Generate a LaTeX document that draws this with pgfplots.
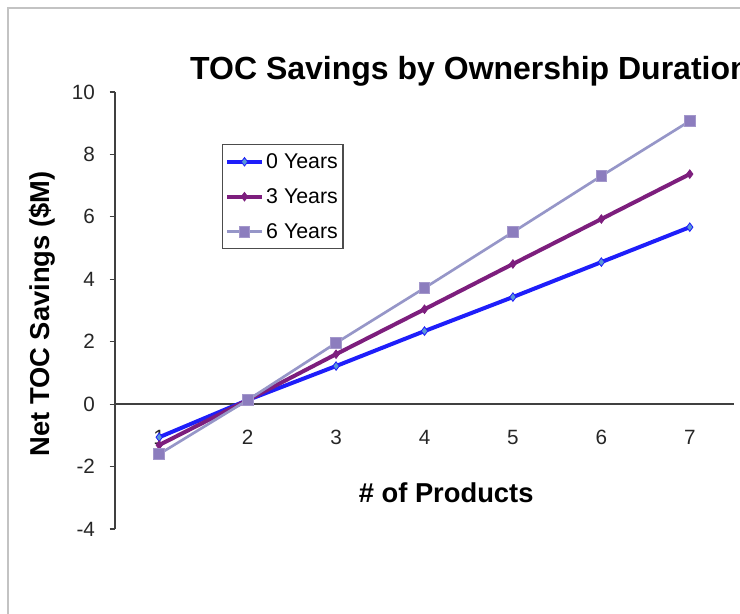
\documentclass[border=0pt]{standalone}
\usepackage{pgfplots}
\pgfplotsset{compat=1.18}
\usepackage{fontspec}
\setmainfont{Liberation Sans}

\definecolor{zeroyr}{RGB}{30,30,250}
\definecolor{zeromk}{RGB}{90,150,215}
\definecolor{threeyr}{RGB}{125,30,125}
\definecolor{sixyr}{RGB}{150,150,200}
\definecolor{sixmk}{RGB}{140,125,190}
\definecolor{frame}{RGB}{195,195,195}

\begin{document}
\begin{tikzpicture}
  % page = 740 x 614 px, 1px = 0.75pt
  \useasboundingbox (0,0) rectangle (555pt,460.5pt);
  \clip (0,0) rectangle (555pt,460.5pt);
  \draw[frame, line width=0.8pt] (6pt,0pt) -- (6pt,454.5pt) -- (555pt,454.5pt);

  \begin{axis}[
    at={(86.25pt,63.75pt)}, anchor=south west,
    scale only axis,
    width=464.25pt, height=327.75pt,
    xmin=0.5, xmax=7.5,
    ymin=-4, ymax=10,
    axis x line=middle,
    axis y line=left,
    axis line style={draw=black!75, line width=1pt, -},
    tick align=outside,
    major tick length=4pt,
    tick style={black!75, line width=0.8pt},
    xtick={1,...,7},
    xticklabels={1,2,3,4,5,6,7},
    x tick style={draw=none},
    extra x ticks={1.5,2.5,...,7.5},
    extra x tick labels={},
    extra x tick style={tick style={draw=black!75, line width=0.8pt}},
    ytick={-4,-2,0,2,4,6,8,10},
    yticklabels={-4,-2,0,2,4,6,8,10},
    ticklabel style={font=\fontsize{15.5}{18}\selectfont, text=black!85},
    xticklabel style={yshift=-12pt},
    yticklabel style={xshift=-7.5pt},
    title={\textbf{TOC Savings by Ownership Duration}},
    title style={at={(axis description cs:0.121,1.011)}, anchor=base west,
      font=\fontsize{24}{28}\selectfont, inner sep=0pt},
    xlabel={\textbf{\# of Products}},
    xlabel style={at={(axis description cs:0.535,0.082)}, anchor=center,
      font=\fontsize{20.5}{24}\selectfont},
    ylabel={\textbf{Net TOC Savings (\$M)}},
    ylabel style={at={(axis description cs:-0.118,0.492)}, anchor=center,
      font=\fontsize{20.5}{24}\selectfont},
    legend style={at={(axis description cs:0.173,0.881)}, anchor=north west,
      draw=black!70, line width=1pt, fill=white,
      font=\fontsize{16}{18}\selectfont,
      inner xsep=2pt, inner ysep=4.5pt, row sep=9.5pt},
    legend cell align=left,
    legend image code/.code={
      \draw[mark repeat=2, mark phase=2, #1]
        plot coordinates {(0cm,0cm) (0.45cm,0cm) (0.9cm,0cm)};},
    clip=false,
  ]
    \addplot[zeroyr, line width=3pt, mark=diamond*,
      mark options={fill=zeromk, draw=zeroyr, line width=0.6pt, scale=1.6}]
      table {
      x y
      1 -1.06
      2 0.13
      3 1.22
      4 2.34
      5 3.43
      6 4.55
      7 5.67
    };
    \addlegendentry{0 Years}
    \addplot[threeyr, line width=3pt, mark=diamond*,
      mark options={fill=threeyr, draw=threeyr, line width=0.6pt, scale=1.6}]
      table {
      x y
      1 -1.31
      2 0.13
      3 1.60
      4 3.04
      5 4.49
      6 5.93
      7 7.37
    };
    \addlegendentry{3 Years}
    \addplot[sixyr, line width=2pt, mark=square*,
      mark options={fill=sixmk, draw=sixmk!80!white, line width=0.6pt, scale=2}]
      table {
      x y
      1 -1.60
      2 0.13
      3 1.96
      4 3.72
      5 5.51
      6 7.31
      7 9.07
    };
    \addlegendentry{6 Years}
  \end{axis}
\end{tikzpicture}
\end{document}
